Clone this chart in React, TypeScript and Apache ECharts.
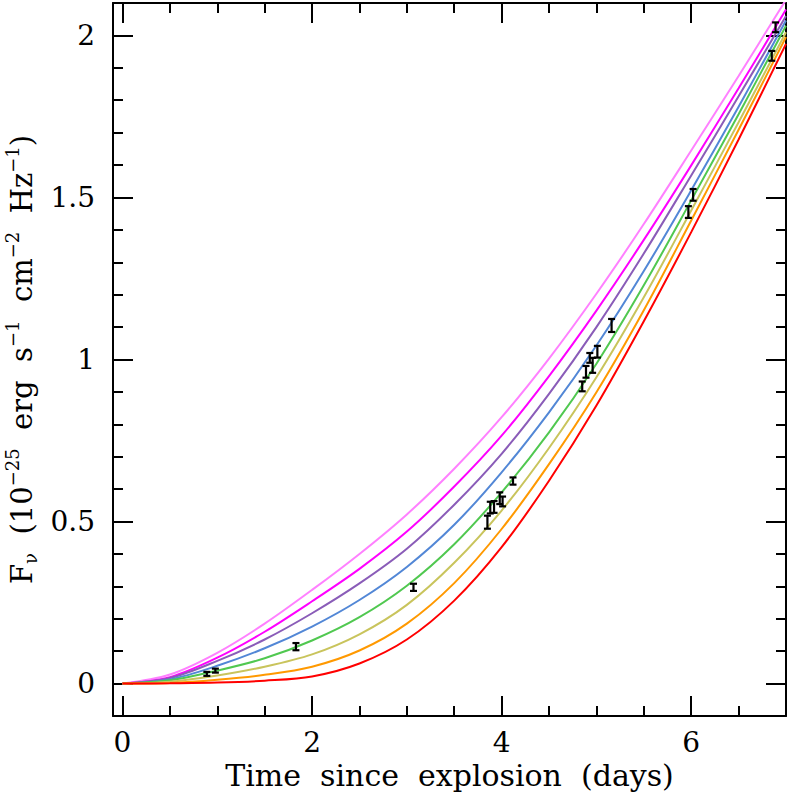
import { useEffect, useRef } from "react";
import * as echarts from "echarts";

// model curves, read at t = 0, 0.5, ..., 7 days
const days = [0, 0.5, 1, 1.5, 2, 2.5, 3, 3.5, 4, 4.5, 5, 5.5, 6, 6.5, 7];
const pinkCurve = [0, 0.028, 0.095, 0.185, 0.289, 0.4, 0.522, 0.663, 0.822, 1.003, 1.203, 1.418, 1.645, 1.875, 2.11];
const magentaCurve = [0, 0.02, 0.08, 0.16, 0.254, 0.354, 0.469, 0.608, 0.765, 0.949, 1.151, 1.369, 1.599, 1.837, 2.08];
const purpleCurve = [0, 0.017, 0.07, 0.136, 0.217, 0.309, 0.416, 0.552, 0.709, 0.894, 1.1, 1.327, 1.568, 1.812, 2.06];
const blueCurve = [0, 0.013, 0.055, 0.109, 0.176, 0.258, 0.36, 0.49, 0.652, 0.837, 1.043, 1.273, 1.522, 1.78, 2.046];
const greenCurve = [0, 0.01, 0.04, 0.078, 0.133, 0.205, 0.302, 0.43, 0.59, 0.775, 0.987, 1.229, 1.491, 1.757, 2.03];
const oliveCurve = [0, 0.006, 0.025, 0.052, 0.09, 0.152, 0.243, 0.373, 0.534, 0.727, 0.945, 1.192, 1.46, 1.732, 2.01];
const orangeCurve = [0, 0.002, 0.012, 0.027, 0.052, 0.102, 0.185, 0.31, 0.477, 0.677, 0.899, 1.152, 1.429, 1.709, 1.995];
const redCurve = [0, 0.001, 0.003, 0.009, 0.022, 0.062, 0.136, 0.256, 0.421, 0.626, 0.858, 1.118, 1.393, 1.679, 1.974];

// observed fluxes: [time, flux, error]
const obsTime = [0.89, 0.98, 1.83, 3.07, 3.85, 3.88, 3.92, 3.98, 4.01, 4.12, 4.85, 4.89, 4.93, 4.96, 5.01, 5.16, 5.97, 6.02, 6.85, 6.89];
const obsFlux = [0.03, 0.04, 0.114, 0.297, 0.498, 0.543, 0.545, 0.572, 0.562, 0.625, 0.917, 0.962, 1.005, 0.982, 1.024, 1.105, 1.455, 1.508, 1.937, 2.025];
const obsErr = [0.003, 0.003, 0.008, 0.008, 0.017, 0.015, 0.015, 0.015, 0.012, 0.008, 0.012, 0.015, 0.012, 0.02, 0.015, 0.017, 0.015, 0.015, 0.012, 0.012];

const xMajor = [0, 2, 4, 6];
const xMinor = [0.5, 1, 1.5, 2.5, 3, 3.5, 4.5, 5, 5.5, 6.5];
const yMajor = [0, 0.5, 1, 1.5, 2];
const yMinor = [0.1, 0.2, 0.3, 0.4, 0.6, 0.7, 0.8, 0.9, 1.1, 1.2, 1.3, 1.4, 1.6, 1.7, 1.8, 1.9];

const curves = [
  { color: "#ff80ff", values: pinkCurve },
  { color: "#ff00ff", values: magentaCurve },
  { color: "#8a5cb8", values: purpleCurve },
  { color: "#5287d6", values: blueCurve },
  { color: "#50c850", values: greenCurve },
  { color: "#c9c45c", values: oliveCurve },
  { color: "#ff9900", values: orangeCurve },
  { color: "#ff0000", values: redCurve },
];

const FONT = "DejaVu Serif";

function xAxisDef(position: "bottom" | "top", ticks: number[], len: number, labels: boolean, line: boolean) {
  return {
    type: "value",
    min: -0.1,
    max: 7,
    position,
    axisLine: { show: line, onZero: false, lineStyle: { color: "#000", width: 2 } },
    axisTick: { show: true, inside: true, length: len, customValues: ticks, lineStyle: { color: "#000", width: 2 } },
    axisLabel: labels
      ? { show: true, customValues: ticks, margin: 12, color: "#000", fontFamily: FONT, fontSize: 28 }
      : { show: false },
    splitLine: { show: false },
  };
}

function yAxisDef(position: "left" | "right", ticks: number[], len: number, labels: boolean, line: boolean) {
  return {
    type: "value",
    min: -0.1,
    max: 2.1,
    position,
    axisLine: { show: line, onZero: false, lineStyle: { color: "#000", width: 2 } },
    axisTick: { show: true, inside: true, length: len, customValues: ticks, lineStyle: { color: "#000", width: 2 } },
    axisLabel: labels
      ? { show: true, customValues: ticks, margin: 18, color: "#000", fontFamily: FONT, fontSize: 28 }
      : { show: false },
    splitLine: { show: false },
  };
}

export default function App() {
  const ref = useRef<HTMLDivElement | null>(null);

  useEffect(() => {
    if (!ref.current) return;
    const chart = echarts.init(ref.current, undefined, { renderer: "svg" });

    const xBottom: any = xAxisDef("bottom", xMajor, 20, true, true);
    xBottom.name = "Time  since  explosion  (days)";
    xBottom.nameLocation = "middle";
    xBottom.nameGap = 44;
    xBottom.nameTextStyle = { color: "#000", fontFamily: FONT, fontSize: 30 };

    const yLeft: any = yAxisDef("left", yMajor, 20, true, true);
    yLeft.name =
      "{a|F}{sub|ν}{a|  (10}{sup|−25}{a|  erg  s}{sup|−1}{a|  cm}{sup|−2}{a|  Hz}{sup|−1}{a|)}";
    yLeft.nameLocation = "middle";
    yLeft.nameRotate = 90;
    yLeft.nameGap = 72;
    yLeft.nameTextStyle = {
      color: "#000",
      fontFamily: FONT,
      fontSize: 29,
      rich: {
        a: { fontFamily: FONT, fontSize: 29, color: "#000", lineHeight: 36, verticalAlign: "middle" },
        sup: { fontFamily: FONT, fontSize: 18, color: "#000", lineHeight: 36, verticalAlign: "top" },
        sub: { fontFamily: FONT, fontSize: 18, color: "#000", lineHeight: 36, verticalAlign: "bottom" },
      },
    };

    chart.setOption({
      animation: false,
      backgroundColor: "#fff",
      grid: { left: 113, right: 4, top: 3, bottom: 82, containLabel: false, outerBoundsMode: "none" },
      xAxis: [
        xBottom,
        xAxisDef("bottom", xMinor, 10, false, false),
        xAxisDef("top", xMajor, 20, false, true),
        xAxisDef("top", xMinor, 10, false, false),
      ],
      yAxis: [
        yLeft,
        yAxisDef("left", yMinor, 10, false, false),
        yAxisDef("right", yMajor, 20, false, true),
        yAxisDef("right", yMinor, 10, false, false),
      ],
      series: [
        ...curves.map((c) => ({
          type: "line",
          xAxisIndex: 0,
          yAxisIndex: 0,
          data: days.map((d, i) => [d, c.values[i]]),
          showSymbol: false,
          smooth: 0.33,
          clip: true,
          lineStyle: { color: c.color, width: 2 },
          itemStyle: { color: c.color },
          z: 2,
        })),
        {
          type: "custom",
          xAxisIndex: 0,
          yAxisIndex: 0,
          data: obsTime.map((t, i) => [t, obsFlux[i], obsErr[i]]),
          encode: { x: 0, y: 1 },
          z: 5,
          renderItem: (_params: any, api: any) => {
            const x = api.value(0);
            const y = api.value(1);
            const e = api.value(2);
            const hi = api.coord([x, y + e]);
            const lo = api.coord([x, y - e]);
            const w = 3.5;
            const style = { stroke: "#000", lineWidth: 2.2 };
            return {
              type: "group",
              children: [
                { type: "line", shape: { x1: hi[0], y1: hi[1] - 1, x2: lo[0], y2: lo[1] + 1 }, style },
                { type: "line", shape: { x1: hi[0] - w, y1: hi[1] - 1, x2: hi[0] + w, y2: hi[1] - 1 }, style },
                { type: "line", shape: { x1: lo[0] - w, y1: lo[1] + 1, x2: lo[0] + w, y2: lo[1] + 1 }, style },
              ],
            };
          },
        },
      ],
    });

    return () => chart.dispose();
  }, []);

  return (
    <div
      ref={ref}
      style={{ position: "absolute", left: 0, top: 0, width: 790, height: 798, background: "#fff" }}
    />
  );
}
